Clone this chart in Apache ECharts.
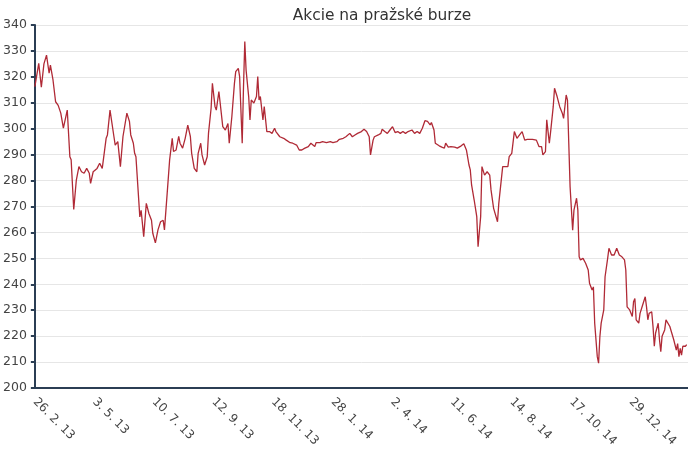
<!DOCTYPE html>
<html>
<head>
<meta charset="utf-8">
<script src="https://cdn.jsdelivr.net/npm/echarts@6/dist/echarts.min.js"></script>
<style>
html,body{margin:0;padding:0;background:#fff;}
#chart{width:688px;height:459px;}
</style>
</head>
<body>
<div id="chart"></div>
<script>
const chartTitle = "Akcie na pražské burze";
// trading-day index of every tick label (every 46 trading days)
const tickStep = 46;
const tickLabels = ["26. 2. 13","3. 5. 13","10. 7. 13","12. 9. 13","18. 11. 13","28. 1. 14","2. 4. 14","11. 6. 14","14. 8. 14","17. 10. 14","29. 12. 14"];
// trading-day index of each read point
const days = [0,3,5,7,9,11,12,14,16,18,20,22,25,27,28,30,32,34,36,38,40,42,43,45,48,50,52,55,56,58,61,62,64,66,68,71,73,74,76,77,78,79,81,82,84,86,88,90,91,93,95,97,99,100,102,104,106,107,109,111,112,114,116,118,120,121,123,125,126,128,129,131,133,134,136,137,139,140,142,143,145,147,149,150,152,154,155,157,158,160,161,162,163,165,166,167,169,171,172,173,174,176,177,179,181,183,185,186,189,192,194,197,199,202,204,206,208,211,213,216,217,220,222,225,228,230,233,235,238,240,243,245,247,249,252,254,256,257,258,259,261,262,265,267,268,270,272,274,276,278,280,282,284,286,288,289,291,293,295,297,299,301,303,305,306,308,309,312,314,316,317,319,321,324,326,329,331,333,335,336,337,339,341,342,344,345,347,349,351,352,354,355,357,358,361,362,365,366,368,370,372,374,376,378,380,382,384,387,389,391,392,394,395,397,398,400,401,403,405,407,408,410,411,412,413,415,416,418,419,420,421,423,425,427,428,430,431,432,434,435,436,437,439,440,442,443,445,447,449,451,453,455,456,457,459,460,461,462,463,464,466,467,469,471,472,473,474,476,477,478,479,481,482,483,484,486,487,488,490,491,492,493,495,496,497,498,499,500,502,503];
// closing values
const prices = [316.2,325.2,316,325,328.4,321.4,324.5,318.8,310.4,309,306,300.2,307.2,289.2,288,268.9,280.2,285.4,283.4,282.8,284.7,282.8,278.9,283.4,284.7,286.7,284.7,296.3,297.6,307.2,297,293.7,295,285.4,297,306,302.8,297.6,294.4,290.5,289.2,288.6,266,268.5,258.4,271.2,267.3,264.7,259.7,256,261,264.1,264.7,261,274.4,288,296.3,291.2,291.8,297,294.4,292.5,296.3,301.4,297,290.5,284.7,283.4,290.5,294.4,289.9,286,289.2,298.3,307.9,317.5,308.6,307.2,314.3,309.9,300.8,299.5,302,294.4,304.6,317.5,322,323.3,320.1,294.4,316.2,333.6,322.6,312.4,303.4,311.1,309.9,312.4,320.1,311.1,312.4,303.4,308.5,298.9,298.9,298.2,300.2,298.9,296.9,296.3,295.6,294.6,294.4,293.7,291.8,291.8,292.4,293.1,294.4,293.1,294.6,294.6,295,294.6,295,294.6,295,295.9,296.3,296.9,298.2,296.9,297.6,298.2,298.9,299.8,298.9,298.2,296.9,289.9,295.6,296.9,297.6,298.2,299.8,298.9,298.2,299.5,300.8,298.5,298.9,298.2,298.9,298.2,298.9,298.2,299.5,298.2,298.9,298.2,300.2,303.1,302.8,301.5,302.4,299.5,294.4,293.4,292.9,292.5,294.4,292.9,293.1,292.9,292.5,293.4,294.2,291.8,286,284.1,278.3,272.5,266.1,254.5,266.1,285.4,282.1,283.4,282.1,276.4,269.3,269.7,264.1,271.2,285.4,285.4,285.4,289.2,290.5,298.9,296.3,297.6,298.9,295.6,295.9,295.9,295.9,295.6,293.1,293.1,289.9,291.2,303.4,294.4,298.9,308.5,315.6,312.4,308.5,306,304,313,311,294.4,277.7,260.9,268.6,273.2,268.6,250.6,249.4,250,248.1,245.5,240.4,237.8,239,225,212.1,209.6,219.8,225,230.1,242.9,250,253.9,251.3,251.3,253.9,251.3,250.6,249.4,245.5,231.3,230.1,230.7,227.6,233.3,234.5,226.3,225,228.8,232,235.2,231.3,226.3,228.8,229.4,223.7,216.1,221.2,225,218.6,214,220,222.4,226.3,225.7,223.7,222,222.4,218.6,214.6,217.1,212.1,215.3,212.7,216.1,216.1,216.7];
const yMin = 200, yMax = 340, yStep = 10;

const chart = echarts.init(document.getElementById('chart'));
chart.setOption({
  animation: false,
  backgroundColor: '#ffffff',
  title: {
    text: chartTitle,
    left: 377,
    textAlign: 'center',
    top: 3,
    textStyle: {fontFamily: 'DejaVu Sans', fontSize: 15.4, fontWeight: 'normal', color: '#333'}
  },
  grid: {left: 33, right: 0, top: 25, bottom: 71, containLabel: false},
  xAxis: {
    type: 'value',
    min: 0,
    max: 504,
    interval: tickStep,
    axisLine: {show: true, lineStyle: {color: '#2b3e54', width: 2}},
    axisTick: {show: false},
    splitLine: {show: false},
    axisLabel: {
      rotate: -45,
      margin: 12,
      fontFamily: 'DejaVu Sans',
      fontSize: 12,
      color: '#444',
      showMaxLabel: false,
      formatter: function (v) {
        const k = v / tickStep;
        return Number.isInteger(k) && tickLabels[k] ? tickLabels[k] : '';
      }
    }
  },
  yAxis: {
    type: 'value',
    min: yMin,
    max: yMax,
    interval: yStep,
    axisLine: {show: true, lineStyle: {color: '#2b3e54', width: 2}},
    axisTick: {show: true, length: 4, lineStyle: {color: '#2b3e54', width: 2}},
    splitLine: {show: true, lineStyle: {color: '#e6e6e6', width: 1}},
    axisLabel: {fontFamily: 'DejaVu Sans', fontSize: 12.5, color: '#444', margin: 8}
  },
  series: [{
    type: 'line',
    data: days.map((d, i) => [d, prices[i]]),
    showSymbol: false,
    symbol: 'none',
    lineStyle: {color: '#b02a36', width: 1.3},
    z: 3
  }]
});
</script>
</body>
</html>
